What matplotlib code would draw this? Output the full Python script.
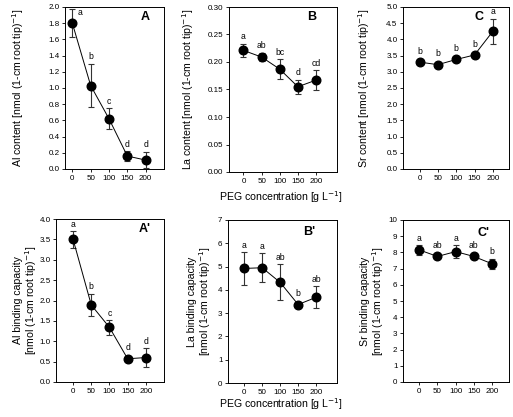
import numpy as np
import matplotlib
matplotlib.use("Agg")
import matplotlib.pyplot as plt
from matplotlib.ticker import FormatStrFormatter, MultipleLocator

plt.rcParams['font.family'] = ['Liberation Sans', 'DejaVu Sans']

peg = [0, 50, 100, 150, 200]

al_content = [1.80, 1.03, 0.62, 0.16, 0.11]
al_content_err = [0.17, 0.27, 0.13, 0.06, 0.10]
al_content_let = ["a", "b", "c", "d", "d"]

la_content = [0.221, 0.209, 0.187, 0.155, 0.167]
la_content_err = [0.012, 0.008, 0.018, 0.013, 0.018]
la_content_let = ["a", "ab", "bc", "d", "cd"]

sr_content = [3.30, 3.22, 3.38, 3.52, 4.25]
sr_content_err = [0.06, 0.05, 0.08, 0.10, 0.38]
sr_content_let = ["b", "b", "b", "b", "a"]

al_bind = [3.50, 1.89, 1.34, 0.57, 0.60]
al_bind_err = [0.20, 0.28, 0.18, 0.04, 0.23]
al_bind_let = ["a", "b", "c", "d", "d"]

la_bind = [4.92, 4.95, 4.32, 3.37, 3.68]
la_bind_err = [0.70, 0.62, 0.77, 0.12, 0.47]
la_bind_let = ["a", "a", "ab", "b", "ab"]

sr_bind = [8.15, 7.75, 8.05, 7.75, 7.30]
sr_bind_err = [0.28, 0.10, 0.40, 0.12, 0.30]
sr_bind_let = ["a", "ab", "a", "ab", "b"]

W, H = 513, 417
fig = plt.figure(figsize=(W / 100, H / 100), dpi=100)


def add_ax(l, r, t, b):
    return fig.add_axes([l / W, 1 - b / H, (r - l) / W, (b - t) / H])


def panel(ax, y, err, lets, ylim, step, fmt, xlim, tag, tag_xy, ylabel, lab_x,
          first_right=False):
    ax.errorbar(peg, y, yerr=err, fmt="-o", color="black", ms=6.2, lw=0.7,
                ecolor="#333333", elinewidth=0.8, capsize=2.2, capthick=0.8,
                zorder=3)
    ax.set_xlim(*xlim)
    ax.set_ylim(*ylim)
    ax.set_xticks(peg)
    ax.yaxis.set_major_locator(MultipleLocator(step))
    ax.yaxis.set_major_formatter(FormatStrFormatter(fmt))
    ax.tick_params(direction="out", length=2.5, width=0.6, labelsize=5.8,
                   pad=1.5, top=False, right=False)
    for s in ax.spines.values():
        s.set_linewidth(0.7)
    # letter positions in points above upper error bar
    ax_h_pt = ax.get_position().height * fig.get_figheight() * 72
    ppu = ax_h_pt / (ylim[1] - ylim[0])
    for i, (xv, yv, ev, lt) in enumerate(zip(peg, y, err, lets)):
        if first_right and i == 0:
            ax.annotate(lt, (xv, yv + ev), xytext=(3.5, -2.5),
                        textcoords="offset points", ha="left", va="center",
                        fontsize=6.2)
            continue
        off = max(1.8, 3.1 + 1.5 - ev * ppu)
        ax.annotate(lt, (xv, yv + ev), xytext=(0, off),
                    textcoords="offset points", ha="center", va="bottom",
                    fontsize=6.2)
    fig.text(tag_xy[0] / W, 1 - tag_xy[1] / H, tag, ha="center", va="center",
             fontsize=9, fontweight="bold")
    ax.set_ylabel(ylabel, fontsize=7.6, linespacing=1.05, va="center",
                  ha="center")
    pos = ax.get_position()
    ax.yaxis.set_label_coords((lab_x / W - pos.x0) / pos.width, 0.5)


unit = "[nmol (1-cm root tip)$^{-1}$]"

axA = add_ax(65, 164, 7, 169)
panel(axA, al_content, al_content_err, al_content_let, (0, 2.0), 0.2, "%.1f",
      (-20, 250), "A", (145, 17), "Al content " + unit, 18, first_right=True)
axB = add_ax(229, 337, 7, 172)
panel(axB, la_content, la_content_err, la_content_let, (0, 0.30), 0.05, "%.2f",
      (-40, 258), "B", (312, 17), "La content " + unit, 188)
axC = add_ax(403, 509, 7, 169)
panel(axC, sr_content, sr_content_err, sr_content_let, (0, 5.0), 0.5, "%.1f",
      (-45, 244), "C", (479, 17), "Sr content " + unit, 364)

axA2 = add_ax(56, 164, 219, 382)
panel(axA2, al_bind, al_bind_err, al_bind_let, (0, 4.0), 0.5, "%.1f",
      (-47, 250), "A'", (145, 229), "Al binding capacity\n" + unit, 26)
axB2 = add_ax(228, 337, 220, 383)
panel(axB2, la_bind, la_bind_err, la_bind_let, (0, 7), 1, "%d",
      (-45, 258), "B'", (309, 232), "La binding capacity\n" + unit, 200)
axC2 = add_ax(403, 509, 220, 382)
panel(axC2, sr_bind, sr_bind_err, sr_bind_let, (0, 10), 1, "%d",
      (-45, 247), "C'", (483, 233), "Sr binding capacity\n" + unit, 373)

fig.text(281 / W, 1 - 197 / H, "PEG concentration [g L$^{-1}$]", ha="center",
         va="center", fontsize=7.6)
fig.text(281 / W, 1 - 404 / H, "PEG concentration [g L$^{-1}$]", ha="center",
         va="center", fontsize=7.6)

fig.savefig("out.png", dpi=100)
